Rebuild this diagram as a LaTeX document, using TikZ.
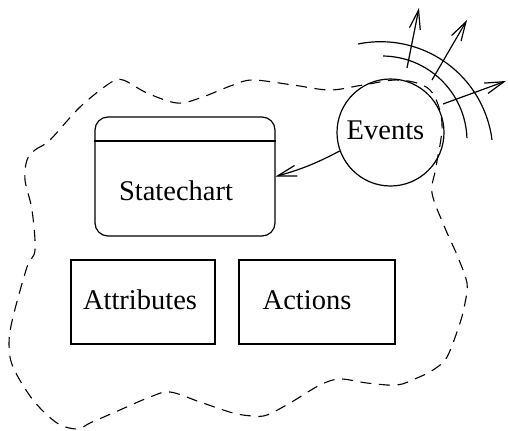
\documentclass[tikz,border=0pt]{standalone}
\usepackage{fontspec}
\setmainfont{Liberation Serif}
\usetikzlibrary{arrows.meta}
\begin{document}
\begin{tikzpicture}[x=0.5pt,y=0.5pt,
  line width=0.6pt,
  lbl/.style={font=\fontsize{14.25}{17}\selectfont, inner sep=0pt, anchor=base},
  plainbox/.style={draw, rectangle, inner sep=0pt},
  border/.style={dash pattern=on 5.5pt off 3.8pt, line width=0.55pt},
  barb/.style={-{Straight Barb[length=9.5pt,width=5.5pt]}}]
  \useasboundingbox (0,0) rectangle (508,430);

  % boundary of the object
  \draw[border] plot[smooth cycle, tension=0.55] coordinates {
    (27,270) (35,280) (50,290) (80,323) (110,347) (123,350) (147,337)
    (177,327) (200,332) (233,345) (253,350) (293,345) (330,340) (363,345)
    (400,350) (430,340) (442,307) (436,263) (432,237) (445,202) (457,175)
    (467,147) (465,127) (460,107) (447,73) (433,60) (417,52) (397,45)
    (367,47) (340,51) (320,45) (290,27) (267,15) (253,14) (233,17)
    (200,28) (170,38) (150,33) (113,17) (90,7) (77,1) (57,7) (33,30)
    (13,63) (9,87) (13,113) (27,163) (35,180) (32,220) (25,250)};

  % statechart box with header compartment
  \node[draw, rectangle, rounded corners=6.5pt, minimum width=90pt,
        minimum height=59.5pt, inner sep=0pt] (sc) at (185,253.5) {};
  \draw (sc.west |- 0,289) -- (sc.east |- 0,289);
  \node[lbl] (sclbl) at (176,230) {Statechart};

  % attributes and actions
  \node[plainbox, minimum width=72pt, minimum height=42pt] (attr) at (143,128) {};
  \node[lbl] (attrlbl) at (140,121) {Attributes};
  \node[plainbox, minimum width=78pt, minimum height=42pt] (act) at (317,128) {};
  \node[lbl] (actlbl) at (307,121) {Actions};

  % events
  \node[draw, circle, minimum size=53.5pt, inner sep=0pt] (ev) at (390.5,297.5) {};
  \node[lbl] (evlbl) at (385.5,291) {Events};
  \draw[barb] (ev.200) to[bend left=6] (sc.east);

  % radiating waves
  \coordinate (w1) at (382,289);
  \coordinate (w2) at (380.6,276);
  \draw ([shift={(89.3:85)}]w1) arc[start angle=89.3, end angle=2, radius=85];
  \draw ([shift={(101.6:112.3)}]w2) arc[start angle=101.6, end angle=7.2, radius=112.3];

  % outgoing events
  \coordinate (a1s) at (407,362);
  \coordinate (a1e) at (419,422);
  \coordinate (a2s) at (432,350);
  \coordinate (a2e) at (467,410);
  \coordinate (a3s) at (443,326);
  \coordinate (a3e) at (506,349);
  \draw[barb] (a1s) -- (a1e);
  \draw[barb] (a2s) -- (a2e);
  \draw[barb] (a3s) -- (a3e);
\end{tikzpicture}
\end{document}
